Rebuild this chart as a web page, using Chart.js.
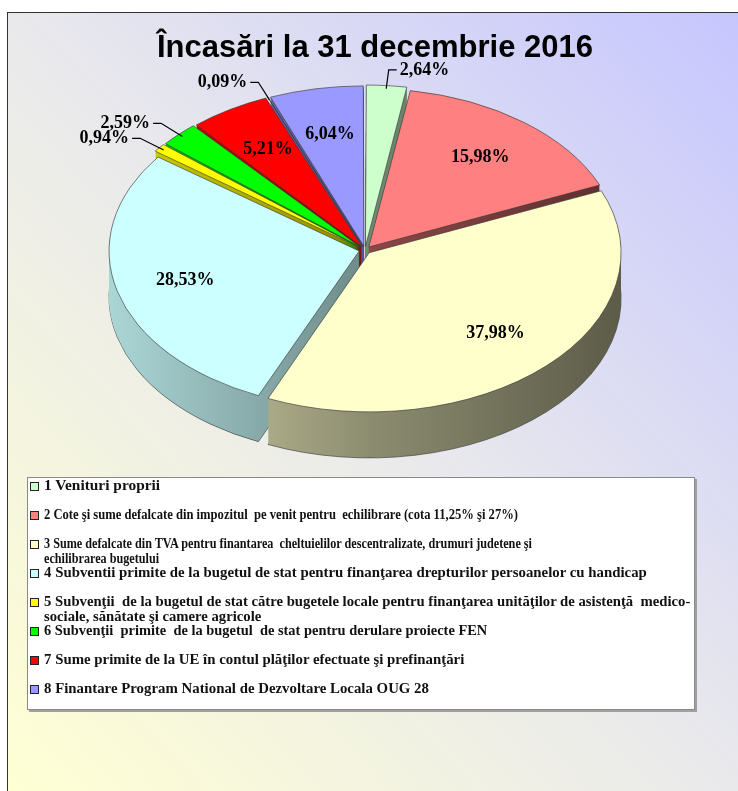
<!DOCTYPE html>
<html>
<head>
<meta charset="utf-8">
<script src="https://cdn.jsdelivr.net/npm/chart.js@4.4.1/dist/chart.umd.min.js"></script>
<style>
    html, body { margin: 0; padding: 0; width: 738px; height: 791px; overflow: hidden; background: #fff; }
    #frame {
        position: absolute; left: 7px; top: 12px; right: 0; bottom: 0;
        border-top: 1.5px solid #333; border-left: 1.5px solid #333;
        background: linear-gradient(to top right, #ffffd4 0%, #e9e9ec 50%, #c6c6ff 100%);
    }
    #chartBox { position: absolute; left: 0; top: 0; width: 738px; height: 500px; z-index: 1; }
    #title {
        position: absolute; left: 0; width: 750px; top: 31px; z-index: 2;
        text-align: center; font: bold 31px "Liberation Sans", Arial, sans-serif; line-height: 31px; color: #000;
    }
    #legend {
        position: absolute; left: 27px; top: 477px; width: 666px; height: 231px; z-index: 2;
        background: #fff; border: 1px solid #8a8a8a; box-shadow: 2px 2px 0 #a0a0a0;
    }
    .item { position: relative; height: 29px; }
    .item .box {
        position: absolute; left: 2px; top: 4px; width: 7px; height: 7px;
        border: 1px solid #222;
    }
    .item .txt {
        position: absolute; left: 16px; top: 0px; white-space: pre;
        font: bold 14px "Liberation Serif", "Times New Roman", serif; line-height: 15px; color: #111;
        transform-origin: 0 0;
    }
</style>
</head>
<body>
<div id="frame"></div>
<div id="title">Încasări la 31 decembrie 2016</div>
<div id="chartBox"><canvas id="pieChart"></canvas></div>
<div id="legend"></div>

<script>
// slices, clockwise from 12 o'clock
const categories = [
    '1 Venituri proprii',
    '2 Cote şi sume defalcate din impozitul  pe venit pentru  echilibrare (cota 11,25% şi 27%)',
    '3 Sume defalcate din TVA pentru finantarea  cheltuielilor descentralizate, drumuri judetene şi\nechilibrarea bugetului',
    '4 Subventii primite de la bugetul de stat pentru finanţarea drepturilor persoanelor cu handicap',
    '5 Subvenţii  de la bugetul de stat către bugetele locale pentru finanţarea unităţilor de asistenţă  medico-\nsociale, sănătate şi camere agricole',
    '6 Subvenţii  primite  de la bugetul  de stat pentru derulare proiecte FEN',
    '7 Sume primite de la UE în contul plăţilor efectuate şi prefinanţări',
    '',
    '8 Finantare Program National de Dezvoltare Locala OUG 28'
];
const shares = [2.64, 15.98, 37.98, 28.53, 0.94, 2.59, 5.21, 0.09, 6.04];
const sliceColors = ['#ccffcc', '#ff8080', '#ffffcc', '#ccffff', '#ffff00', '#00ff00', '#ff0000', '#333366', '#9999ff'];

// legend lines in the original are set with uneven horizontal stretch
const legendStretch = [1.1, 0.9, 0.87, 1.06, 1.05, 1.03, 1.06, 1, 1.06];

const TILT = 0.632;   // vertical squash of the pie
const DEPTH = 46;     // thickness of the pie in px
const EXPLODE = 24;   // arc offset (chart.js draws offset/4)

function shade(hex, f) {
    const n = parseInt(hex.slice(1), 16);
    const r = Math.round(((n >> 16) & 255) * f);
    const g = Math.round(((n >> 8) & 255) * f);
    const b = Math.round((n & 255) * f);
    return `rgb(${r},${g},${b})`;
}

function pctText(v) {
    return v.toFixed(2).replace('.', ',') + '%';
}

const tiltPlugin = {
    id: 'tilt3d',
    beforeDatasetsDraw(chart) {
        const ctx = chart.ctx;
        const arcs = chart.getDatasetMeta(0).data;
        const cx = arcs[0].x, cy = arcs[0].y, r = arcs[0].outerRadius;
        ctx.save();
        ctx.translate(0, cy);
        ctx.scale(1, TILT);
        ctx.translate(0, -cy);

        const grads = arcs.map((arc, i) => {
            const g = ctx.createLinearGradient(cx - r, 0, cx + r, 0);
            g.addColorStop(0, shade(sliceColors[i], 0.84));
            g.addColorStop(0.5, shade(sliceColors[i], 0.55));
            g.addColorStop(1, shade(sliceColors[i], 0.36));
            return g;
        });

        // side walls: stack of darker copies below the top face
        for (let d = DEPTH; d >= 1; d--) {
            ctx.save();
            ctx.translate(0, d / TILT);
            arcs.forEach((arc, i) => {
                const o = arc.options;
                const bg = o.backgroundColor, bw = o.borderWidth;
                o.backgroundColor = grads[i];
                o.borderWidth = d === DEPTH ? bw : 0;
                arc.draw(ctx);
                o.backgroundColor = bg;
                o.borderWidth = bw;
            });
            ctx.restore();
        }
    },
    afterDatasetsDraw(chart) {
        const ctx = chart.ctx;
        ctx.restore();

        const arcs = chart.getDatasetMeta(0).data;
        const cx = arcs[0].x, cy = arcs[0].y, r = arcs[0].outerRadius;
        const off = EXPLODE / 4;

        ctx.save();
        ctx.font = 'bold 18px "Liberation Serif", "Times New Roman", serif';
        ctx.fillStyle = '#000';
        ctx.strokeStyle = '#000';
        ctx.lineWidth = 1.2;
        ctx.textBaseline = 'middle';

        arcs.forEach((arc, i) => {
            const mid = (arc.startAngle + arc.endAngle) / 2;
            const c = Math.cos(mid), s = Math.sin(mid);
            const px = f => cx + c * (r * f + off);
            const py = f => cy + s * (r * f + off) * TILT;
            const text = pctText(shares[i]);

            if (shares[i] >= 5) {
                ctx.textAlign = 'center';
                ctx.fillText(text, px(0.72), py(0.72));
                return;
            }
            // small slices: leader line out of the rim
            const ex = px(1), ey = py(1);
            const bx = px(1.12), by = py(1.12);
            const dir = c >= 0 ? 1 : -1;
            const hx = bx + dir * 8;
            ctx.beginPath();
            ctx.moveTo(ex, ey);
            ctx.lineTo(bx, by);
            ctx.lineTo(hx, by);
            ctx.stroke();
            ctx.textAlign = dir > 0 ? 'left' : 'right';
            ctx.fillText(text, hx + dir * 3, by);
        });
        ctx.restore();
    }
};

new Chart(document.getElementById('pieChart'), {
    type: 'pie',
    data: {
        labels: categories,
        datasets: [{
            data: shares,
            backgroundColor: sliceColors,
            borderColor: '#3a3a3a',
            borderWidth: 0.8,
            offset: EXPLODE,
            clip: false
        }]
    },
    options: {
        responsive: true,
        maintainAspectRatio: false,
        animation: false,
        events: [],
        radius: 250,
        layout: { padding: { left: 0, right: 8, top: 0, bottom: 0 } },
        plugins: {
            legend: { display: false },
            tooltip: { enabled: false }
        }
    },
    plugins: [tiltPlugin]
});

// legend (the 0,09% slice has no entry)
const legendEl = document.getElementById('legend');
categories.forEach((name, i) => {
    if (!name) return;
    const row = document.createElement('div');
    row.className = 'item';
    const box = document.createElement('span');
    box.className = 'box';
    box.style.background = sliceColors[i];
    const txt = document.createElement('span');
    txt.className = 'txt';
    txt.style.transform = `scaleX(${legendStretch[i]})`;
    txt.textContent = name;
    row.appendChild(box);
    row.appendChild(txt);
    legendEl.appendChild(row);
});
</script>
</body>
</html>
